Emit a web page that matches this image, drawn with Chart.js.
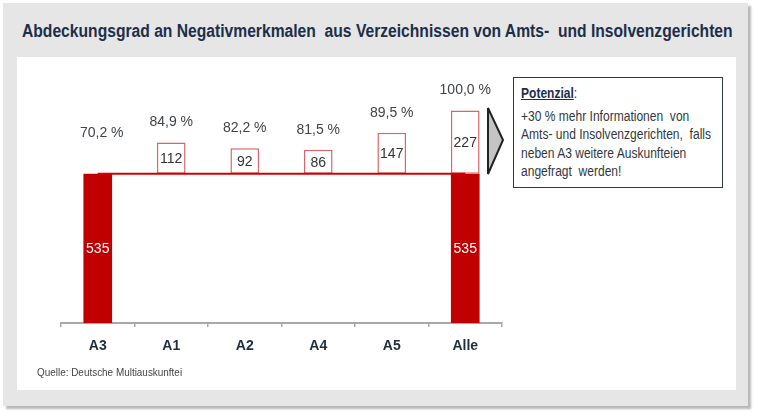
<!DOCTYPE html>
<html>
<head>
<meta charset="utf-8">
<script src="https://cdn.jsdelivr.net/npm/chart.js@4.4.1/dist/chart.umd.min.js"></script>
<style>
  html, body { margin:0; padding:0; background:#ffffff; }
  #page { position:relative; width:762px; height:416px; overflow:hidden; background:#ffffff; }
  #panel { position:absolute; left:3px; top:3px; width:745px; height:403px; background:#e6e6e6;
           box-shadow: 3px 3px 2px rgba(0,0,0,0.28); }
  #inner { position:absolute; left:17px; top:57px; width:719px; height:333px; background:#ffffff; }
  .fit { display:inline-block; white-space:pre; transform-origin:0 0; }
  #title { position:absolute; left:22px; top:20px; font-family:"Liberation Sans",Arial,sans-serif;
           font-weight:bold; font-size:18px; line-height:22px; color:#1c2f4a; }
  #chart { position:absolute; left:0; top:0; }
  #callout { position:absolute; left:513px; top:77px; width:210px; height:111px; box-sizing:border-box;
             border:1.5px solid #2b3a4a; background:#ffffff; padding:6px 0 0 7px; overflow:hidden; }
  #callout .fit { font-family:"Liberation Sans",Arial,sans-serif; font-size:14px; line-height:18.5px; color:#333840; }
  #callout .head { display:inline-block; margin-bottom:4px; color:#1c2f4a; }
  #callout .head b { text-decoration:underline; }
  #arrow { position:absolute; left:486px; top:106px; }
  #source { position:absolute; left:37px; top:365px; font-family:"Liberation Sans",Arial,sans-serif;
            font-size:11.5px; line-height:14px; color:#444444; }
</style>
</head>
<body>
<div id="page">
  <div id="panel"></div>
  <div id="inner"></div>
  <div id="title" class="fit" data-w="711">Abdeckungsgrad an Negativmerkmalen  aus Verzeichnissen von Amts-  und Insolvenzgerichten</div>
  <canvas id="chart" width="762" height="416"></canvas>
  <svg id="arrow" width="20" height="72" viewBox="0 0 20 72"><polygon points="2,2 17,34 2,68" fill="#c4c4c4" stroke="#222222" stroke-width="2" stroke-linejoin="miter"/></svg>
  <div id="callout"><div class="fit" data-w="190"><span class="head"><b>Potenzial</b>:</span>
+30 % mehr Informationen  von
Amts- und Insolvenzgerichten,  falls
neben A3 weitere Auskunfteien
angefragt  werden!</div></div>
  <div id="source" class="fit" data-w="145">Quelle: Deutsche Multiauskunftei</div>
</div>
<script>
const categories    = ['A3', 'A1', 'A2', 'A4', 'A5', 'Alle'];
const baseValues    = [535, null, null, null, null, 535];
const addValues     = [null, 112, 92, 86, 147, 227];
const connectorLine = [535, 535, 535, 535, 535, 535];
const percentLabels = ['70,2 %', '84,9 %', '82,2 %', '81,5 %', '89,5 %', '100,0 %'];

// condense text blocks horizontally (narrow font look)
document.querySelectorAll('.fit').forEach(el => {
  const w = el.offsetWidth;
  const target = parseFloat(el.dataset.w);
  if (w > 0) el.style.transform = 'scaleX(' + (target / w) + ')';
});

const BASE = baseValues[0];
const boxData = addValues.map(v => v == null ? null : [BASE, BASE + v]);

const labelPlugin = {
  id: 'labels',
  afterDatasetsDraw(chart) {
    const ctx = chart.ctx;
    const mBase = chart.getDatasetMeta(1);
    const mBox = chart.getDatasetMeta(2);
    ctx.save();
    ctx.textAlign = 'center';
    ctx.textBaseline = 'middle';
    ctx.font = '14px "Liberation Sans", Arial, sans-serif';
    categories.forEach((c, i) => {
      let topY;
      if (baseValues[i] != null) {
        const el = mBase.data[i];
        ctx.fillStyle = '#ffffff';
        ctx.fillText(String(baseValues[i]), el.x, (el.y + el.base) / 2 + 1);
        topY = el.y;
      }
      if (addValues[i] != null) {
        const el = mBox.data[i];
        ctx.fillStyle = '#333333';
        ctx.fillText(String(addValues[i]), el.x, (el.y + el.base) / 2 + 1);
        topY = el.y;
      }
      const off = addValues[i] != null ? 20 : 41;
      ctx.fillStyle = '#404448';
      ctx.fillText(percentLabels[i], chart.scales.x.getPixelForValue(i) + (i === 0 ? 4 : 0), topY - off);
    });
    ctx.restore();
  }
};

new Chart(document.getElementById('chart'), {
  data: {
    labels: categories,
    datasets: [
      { type: 'line', data: connectorLine, borderColor: '#d00000', borderWidth: 2, pointRadius: 0, order: 0 },
      { type: 'bar', data: baseValues, backgroundColor: '#c00000', borderWidth: 0, grouped: false, order: 2 },
      { type: 'bar', data: boxData, backgroundColor: '#ffffff', borderColor: '#d9646a', borderWidth: 1.5,
        borderSkipped: false, grouped: false, order: 1 }
    ]
  },
  options: {
    responsive: false,
    animation: false,
    devicePixelRatio: 1,
    layout: { padding: { left: 61, right: 260, top: 72, bottom: 53 } },
    plugins: { legend: { display: false }, tooltip: { enabled: false } },
    datasets: { bar: { categoryPercentage: 1, barPercentage: 0.39 } },
    scales: {
      x: {
        offset: true,
        grid: { offset: true, drawOnChartArea: false, tickLength: 4, color: '#a8a8a8', lineWidth: 1.5 },
        border: { color: '#a8a8a8', width: 2 },
        ticks: { font: { family: '"Liberation Sans", Arial, sans-serif', size: 14, weight: 'bold' }, color: '#1f2d3d', padding: 11 },
        afterFit(axis) { axis.height = 40; }
      },
      y: { display: false, min: 0, max: 900 }
    }
  },
  plugins: [labelPlugin]
});
</script>
</body>
</html>
